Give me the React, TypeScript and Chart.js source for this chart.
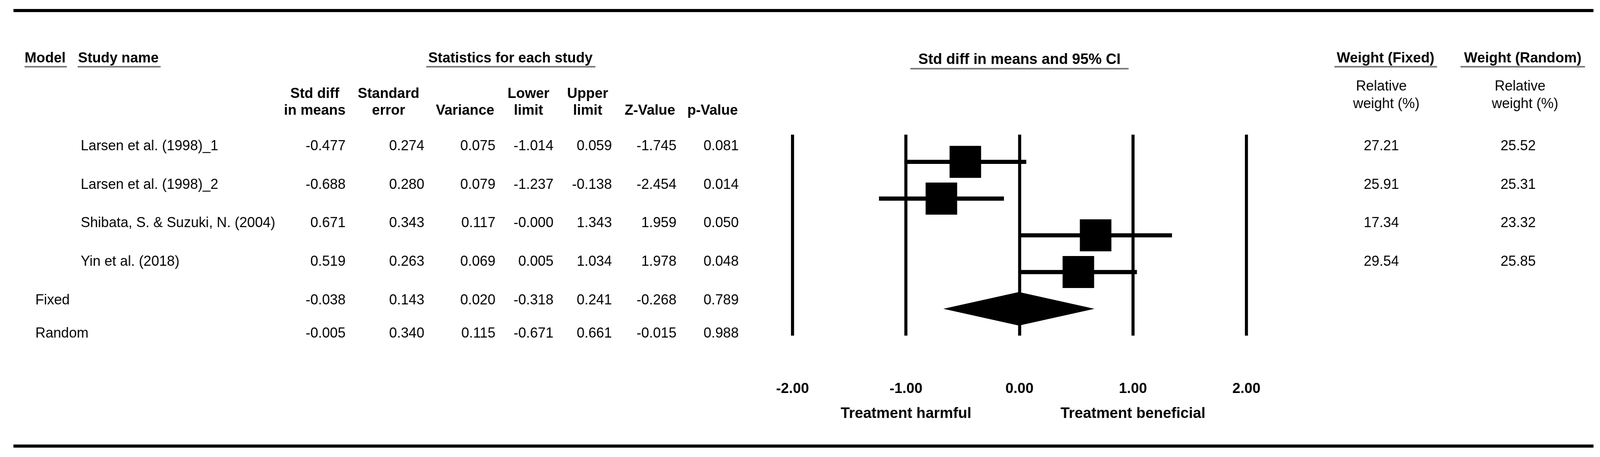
import React, { useEffect, useRef } from "react";
import { Chart, registerables } from "chart.js";

Chart.register(...registerables);

// ---------------- data ----------------
const studyNames = [
  "Larsen et al. (1998)_1",
  "Larsen et al. (1998)_2",
  "Shibata, S. & Suzuki, N. (2004)",
  "Yin et al. (2018)",
];
const stdDiff = [-0.477, -0.688, 0.671, 0.519];
const stdErr = [0.274, 0.28, 0.343, 0.263];
const variance = [0.075, 0.079, 0.117, 0.069];
const lowerLimit = [-1.014, -1.237, -0.0, 0.005];
const upperLimit = [0.059, -0.138, 1.343, 1.034];
const zValue = [-1.745, -2.454, 1.959, 1.978];
const pValue = [0.081, 0.014, 0.05, 0.048];
const weightFixed = [27.21, 25.91, 17.34, 29.54];
const weightRandom = [25.52, 25.31, 23.32, 25.85];

const modelNames = ["Fixed", "Random"];
const modelStdDiff = [-0.038, -0.005];
const modelStdErr = [0.143, 0.34];
const modelVariance = [0.02, 0.115];
const modelLower = [-0.318, -0.671];
const modelUpper = [0.241, 0.661];
const modelZ = [-0.268, -0.015];
const modelP = [0.789, 0.988];
const diamondModel = 1; // Random

const axisMin = -2;
const axisMax = 2;
const axisStep = 1;
const sideLabels = ["Treatment harmful", "Treatment beneficial"];
const sideLabelValues = [-1, 1];

const colHeaders = [
  ["Std diff", "in means"],
  ["Standard", "error"],
  ["", "Variance"],
  ["Lower", "limit"],
  ["Upper", "limit"],
  ["", "Z-Value"],
  ["", "p-Value"],
];

// ---------------- layout ----------------
const W = 4163;
const H = 1171;
const FONT = '"Liberation Sans", Arial, Helvetica, sans-serif';
const FS_REG = 36.6;
const FS_BOLD = 37;
const FS_PLOT_TITLE = 38.5;
const FS_TICK = 37.5;
const FS_SIDE = 39;
const colRight = [899, 1104, 1289, 1440, 1592, 1760, 1922];
const colHeaderCenter = [819, 1011, 1210, 1375, 1529, 1691, 1854];
const rowY = [375, 474, 572, 671, 770, 855];
const wFixedX = 3594;
const wRandomX = 3950;

function fmt(v: number, d: number) {
  if (v < 0 || Object.is(v, -0)) return "-" + Math.abs(v).toFixed(d);
  return v.toFixed(d);
}

const tablePlugin = {
  id: "forestTable",
  afterDatasetsDraw(chart: any) {
    const ctx = chart.ctx as CanvasRenderingContext2D;
    const xs = chart.scales.x;
    const ys = chart.scales.y;
    const yc = ys.getPixelForValue(studyNames.length);
    const xl = xs.getPixelForValue(modelLower[diamondModel]);
    const xm = xs.getPixelForValue(modelStdDiff[diamondModel]);
    const xr = xs.getPixelForValue(modelUpper[diamondModel]);
    ctx.save();
    ctx.fillStyle = "#000";
    ctx.beginPath();
    ctx.moveTo(xl, yc);
    ctx.lineTo(xm, yc - 43);
    ctx.lineTo(xr, yc);
    ctx.lineTo(xm, yc + 43);
    ctx.closePath();
    ctx.fill();
    ctx.restore();
  },
  afterDraw(chart: any) {
    const ctx = chart.ctx as CanvasRenderingContext2D;
    const xs = chart.scales.x;
    ctx.save();
    ctx.fillStyle = "#000";
    // rules
    ctx.fillRect(35, 23, 4146 - 35, 8);
    ctx.fillRect(35, 1139, 4146 - 35, 8);

    const bold = `bold ${FS_BOLD}px ${FONT}`;
    const reg = `${FS_REG}px ${FONT}`;
    ctx.textBaseline = "middle";

    const underline = (x1: number, x2: number, y: number) => {
      ctx.save();
      ctx.fillStyle = "#7a7a7a";
      ctx.fillRect(x1, y - 2, x2 - x1, 4);
      ctx.restore();
    };

    // top headers
    ctx.font = bold;
    ctx.textAlign = "left";
    ctx.fillText("Model", 64, 150);
    underline(64, 174, 171);
    ctx.fillText("Study name", 203, 150);
    underline(202, 418, 171);
    ctx.textAlign = "center";
    ctx.fillText("Statistics for each study", 1328, 150);
    underline(1109, 1549, 171);
    ctx.fillText("Weight (Fixed)", 3605, 150);
    underline(3472, 3739, 171);
    ctx.fillText("Weight (Random)", 3962, 150);
    underline(3800, 4124, 171);
    const cx = xs.getPixelForValue(0);
    ctx.font = `bold ${FS_PLOT_TITLE}px ${FONT}`;
    ctx.fillText("Std diff in means and 95% CI", cx, 153);
    underline(cx - 284, cx + 284, 176);

    // column sub-headers
    ctx.font = bold;
    colHeaders.forEach((lines, i) => {
      if (lines[0]) ctx.fillText(lines[0], colHeaderCenter[i], 241);
      ctx.fillText(lines[1], colHeaderCenter[i], 284);
    });
    ctx.font = reg;
    ctx.fillText("Relative", 3594, 222);
    ctx.fillText("weight (%)", 3607, 267);
    ctx.fillText("Relative", 3955, 222);
    ctx.fillText("weight (%)", 3968, 267);

    // study rows
    studyNames.forEach((name, i) => {
      const y = rowY[i];
      ctx.textAlign = "left";
      ctx.fillText(name, 210, y);
      ctx.textAlign = "right";
      const vals = [
        fmt(stdDiff[i], 3),
        fmt(stdErr[i], 3),
        fmt(variance[i], 3),
        fmt(lowerLimit[i], 3),
        fmt(upperLimit[i], 3),
        fmt(zValue[i], 3),
        fmt(pValue[i], 3),
      ];
      vals.forEach((v, c) => ctx.fillText(v, colRight[c], y));
      ctx.textAlign = "center";
      ctx.fillText(weightFixed[i].toFixed(2), wFixedX, y);
      ctx.fillText(weightRandom[i].toFixed(2), wRandomX, y);
    });

    // model rows
    modelNames.forEach((name, i) => {
      const y = rowY[studyNames.length + i];
      ctx.textAlign = "left";
      ctx.fillText(name, 92, y);
      ctx.textAlign = "right";
      const vals = [
        fmt(modelStdDiff[i], 3),
        fmt(modelStdErr[i], 3),
        fmt(modelVariance[i], 3),
        fmt(modelLower[i], 3),
        fmt(modelUpper[i], 3),
        fmt(modelZ[i], 3),
        fmt(modelP[i], 3),
      ];
      vals.forEach((v, c) => ctx.fillText(v, colRight[c], y));
    });

    // side labels under axis
    ctx.font = `bold ${FS_SIDE}px ${FONT}`;
    ctx.textAlign = "center";
    sideLabels.forEach((t, i) => {
      ctx.fillText(t, xs.getPixelForValue(sideLabelValues[i]), 1060);
    });
    ctx.restore();
  },
};

export default function App() {
  const ref = useRef<HTMLCanvasElement>(null);
  useEffect(() => {
    const canvas = ref.current!;
    Chart.defaults.font.family = FONT;
    const chart = new Chart(canvas, {
      type: "scatter",
      data: {
        datasets: [
          {
            type: "bar",
            indexAxis: "y",
            data: studyNames.map((_, i) => ({ y: i, x: [lowerLimit[i], upperLimit[i]] })),
            backgroundColor: "#000",
            borderWidth: 0,
            barThickness: 10,
            xAxisID: "x",
            yAxisID: "y",
          } as any,
          {
            type: "scatter",
            data: studyNames.map((_, i) => ({ x: stdDiff[i], y: i })),
            pointStyle: "rect",
            pointRadius: 58,
            pointHoverRadius: 58,
            backgroundColor: "#000",
            borderWidth: 0,
            xAxisID: "x",
            yAxisID: "y",
          } as any,
        ],
      },
      options: {
        animation: false,
        responsive: false,
        devicePixelRatio: 1,
        events: [],
        layout: { padding: { left: 2062, right: W - 3243, top: 345, bottom: H - 860 - 200 } },
        plugins: { legend: { display: false }, tooltip: { enabled: false } },
        scales: {
          x: {
            type: "linear",
            min: axisMin,
            max: axisMax,
            position: "bottom",
            afterFit: (s: any) => {
              s.height = 200;
            },
            grid: { color: "#000", lineWidth: 8, drawTicks: false },
            border: { display: false },
            ticks: {
              stepSize: axisStep,
              padding: 114,
              maxRotation: 0,
              autoSkip: false,
              color: "#000",
              font: { family: FONT, size: FS_TICK, weight: "bold" },
              callback: (v: any) => fmt(Number(v), 2),
            },
          },
          y: {
            type: "linear",
            display: false,
            reverse: true,
            min: -0.493,
            max: 4.483,
          },
        },
      } as any,
      plugins: [tablePlugin],
    });
    return () => chart.destroy();
  }, []);
  return (
    <div
      style={{
        position: "fixed",
        left: 0,
        top: 0,
        width: "100vw",
        height: "100vh",
        overflow: "hidden",
        background: "#fff",
      }}
    >
      <canvas ref={ref} width={W} height={H} style={{ display: "block", width: "100%", height: "100%" }} />
    </div>
  );
}
